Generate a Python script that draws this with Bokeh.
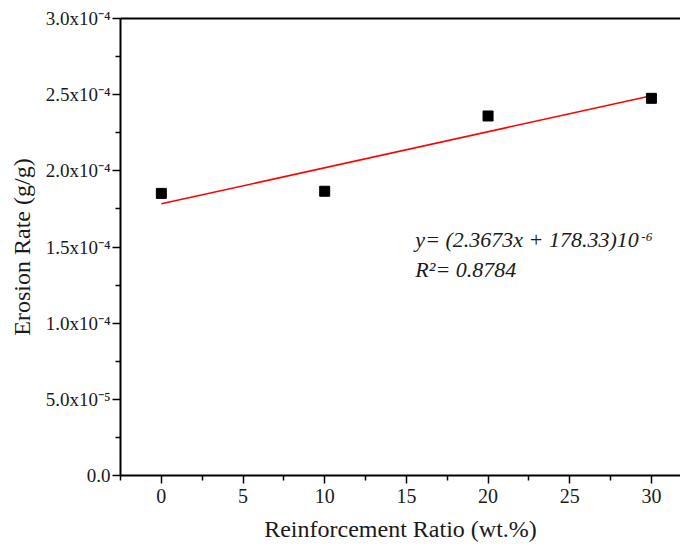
import numpy as np
from bokeh.plotting import figure
from bokeh.models import (ColumnDataSource, FixedTicker, LinearAxis, Range1d, Label)
from bokeh.embed import file_html
from bokeh.resources import INLINE

# ---- data ----
ratio = [0, 10, 20, 30]
erosion_rate = [1.852e-4, 1.866e-4, 2.360e-4, 2.476e-4]
fit_slope = 2.3673e-6
fit_intercept = 178.33e-6
x_ticks = [0, 5, 10, 15, 20, 25, 30]
y_ticks = [0.0, 5.0e-5, 1.0e-4, 1.5e-4, 2.0e-4, 2.5e-4, 3.0e-4]
y_tick_labels = ["0.0", "5.0x10\u207b\u2075", "1.0x10\u207b\u2074", "1.5x10\u207b\u2074",
                 "2.0x10\u207b\u2074", "2.5x10\u207b\u2074", "3.0x10\u207b\u2074"]
eq_text = "y= (2.3673x + 178.33)10"
eq_exp = "-6"
r2_text = "R\u00b2= 0.8784"
x_label = "Reinforcement Ratio (wt.%)"
y_label = "Erosion Rate (g/g)"

FONT = "Liberation Serif"
TXT = "#1a1a1a"

p = figure(width=680, height=550, output_backend="svg", toolbar_location=None,
           x_range=Range1d(-2.5, 31.78), y_range=Range1d(0, 3.0e-4),
           x_axis_type=None, y_axis_type=None,
           min_border_left=120, min_border_top=18, min_border_right=0, min_border_bottom=75)
p.outline_line_color = None
p.xgrid.visible = False
p.ygrid.visible = False
p.background_fill_color = "white"
p.border_fill_color = "white"

x_minor = [v - 2.5 for v in x_ticks] + [x_ticks[-1] + 2.5]
y_minor = [(a + b) / 2 for a, b in zip(y_ticks[:-1], y_ticks[1:])]

def style_axis(ax):
    ax.axis_line_width = 2
    ax.axis_line_color = "black"
    ax.major_tick_line_width = 1.5
    ax.minor_tick_line_width = 1.5
    ax.major_tick_in = 0
    ax.major_tick_out = 8
    ax.minor_tick_in = 0
    ax.minor_tick_out = 5
    ax.major_label_text_font = FONT
    ax.major_label_text_font_size = "20px"
    ax.major_label_text_color = TXT
    ax.axis_label_text_font = FONT
    ax.axis_label_text_font_size = "24px"
    ax.axis_label_text_font_style = "normal"
    ax.axis_label_text_color = TXT

xaxis = LinearAxis(ticker=FixedTicker(ticks=x_ticks, minor_ticks=x_minor), axis_label=x_label)
style_axis(xaxis)
xaxis.major_label_standoff = 5
xaxis.axis_label_standoff = 10
p.add_layout(xaxis, "below")

yaxis = LinearAxis(ticker=FixedTicker(ticks=y_ticks, minor_ticks=y_minor), axis_label=y_label)
style_axis(yaxis)
yaxis.major_label_text_font_size = "19px"
yaxis.major_label_overrides = {t: l for t, l in zip(y_ticks, y_tick_labels)}
yaxis.major_label_standoff = 2
yaxis.axis_label_standoff = 8
p.add_layout(yaxis, "left")

top = LinearAxis(ticker=FixedTicker(ticks=[]), major_label_text_font_size="0px")
top.axis_line_width = 2
top.major_tick_out = 0
top.minor_tick_out = 0
top.major_label_standoff = 0
p.add_layout(top, "above")

# fit line
fx = np.array([ratio[0], ratio[-1]], dtype=float)
fy = fit_intercept + fit_slope * fx
p.line(fx, fy, line_color="red", line_width=1.5)

src = ColumnDataSource(dict(x=ratio, y=erosion_rate))
p.scatter("x", "y", source=src, marker="square", size=10, fill_color="black", line_color="black")

p.add_layout(Label(x=15.55, y=1.464e-4, text=eq_text, text_font=FONT, text_font_size="22px",
                   text_font_style="italic", text_color=TXT))
p.add_layout(Label(x=15.55, y=1.464e-4, x_offset=226, y_offset=11, text=eq_exp, text_font=FONT,
                   text_font_size="13px", text_font_style="italic", text_color=TXT))
p.add_layout(Label(x=15.55, y=1.273e-4, text=r2_text, text_font=FONT, text_font_size="22px",
                   text_font_style="italic", text_color=TXT))

open("out.html", "w").write(file_html(p, INLINE))
